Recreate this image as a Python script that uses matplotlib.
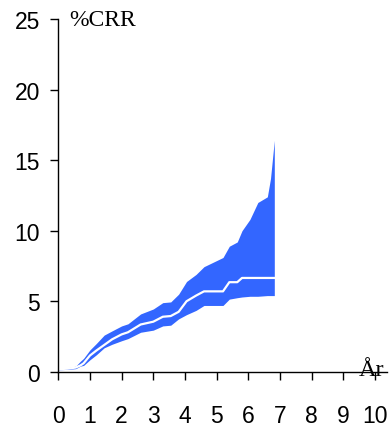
import matplotlib
matplotlib.use("Agg")
import matplotlib.pyplot as plt

# years since start and cumulative % CRR (median with lower/upper band)
years = [0, 0.3, 0.55, 0.7, 0.8, 1.0, 1.2, 1.45, 1.7, 2.0, 2.2, 2.6, 3.0, 3.3,
         3.55, 3.8, 4.05, 4.35, 4.6, 5.2, 5.4, 5.65, 5.8, 6.05, 6.3, 6.6, 6.7,
         6.82]
median = [0.18, 0.22, 0.3, 0.45, 0.6, 1.15, 1.5, 1.9, 2.3, 2.65, 2.8, 3.35,
          3.55, 3.9, 3.95, 4.25, 5.0, 5.4, 5.7, 5.7, 6.35, 6.35, 6.65, 6.65,
          6.65, 6.65, 6.65, 6.65]
upper = [0.2, 0.28, 0.4, 0.75, 0.95, 1.55, 2.0, 2.6, 2.9, 3.25, 3.4, 4.1, 4.45,
         4.9, 4.95, 5.5, 6.4, 6.9, 7.45, 8.1, 8.9, 9.2, 10.0, 10.8, 12.0, 12.4,
         13.7, 16.4]
lower = [0.14, 0.17, 0.22, 0.4, 0.45, 0.85, 1.2, 1.7, 1.95, 2.2, 2.35, 2.8,
         2.95, 3.25, 3.3, 3.75, 4.05, 4.35, 4.7, 4.7, 5.15, 5.25, 5.3, 5.35,
         5.35, 5.4, 5.4, 5.4]

xticks = list(range(0, 11))
yticks = [0, 5, 10, 15, 20, 25]

plt.rcParams["font.family"] = ["Liberation Sans", "DejaVu Sans"]

fig = plt.figure(figsize=(3.91, 4.27), dpi=100)
ax = fig.add_axes([0.149, 0.127, 0.841, 0.826])

ax.fill_between(years, lower, upper, color="#3366ff", linewidth=0)
ax.plot(years, median, color="white", linewidth=1.6)

ax.set_xlim(0, 10.38)
ax.set_ylim(0, 25)
ax.set_xticks(xticks)
ax.set_yticks(yticks)
ax.spines["top"].set_visible(False)
ax.spines["right"].set_visible(False)
for s in ("left", "bottom"):
    ax.spines[s].set_linewidth(1.0)
ax.tick_params(axis="both", direction="out", length=6, width=1.0, labelsize=16.5)
ax.tick_params(axis="x", pad=17.5)
ax.tick_params(axis="y", pad=7)

ax.text(0.34, 25.0, "%CRR", family="Liberation Serif", fontsize=17,
        ha="left", va="center", clip_on=False)
ax.text(9.9, -0.2, "År", family="Liberation Serif", fontsize=17.5,
        ha="center", va="baseline", clip_on=False)

fig.savefig("out.png", dpi=100)
